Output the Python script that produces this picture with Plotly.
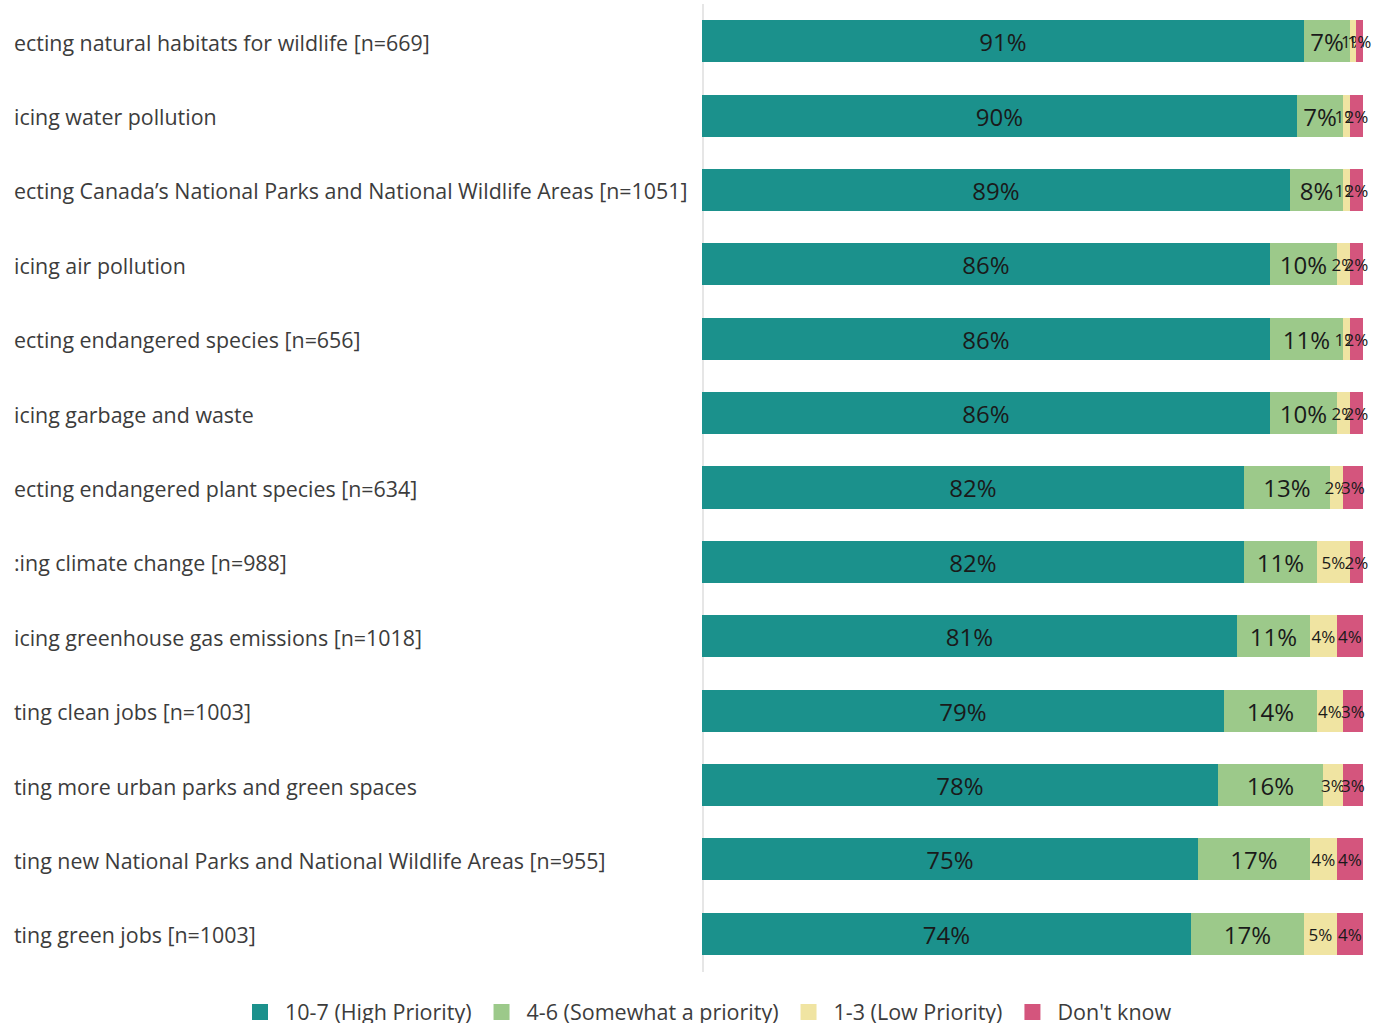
import plotly.graph_objects as go

# Survey items (left part of each label falls outside the visible area)
items = [
    "ecting natural habitats for wildlife [n=669]",
    "icing water pollution",
    "ecting Canada\u2019s National Parks and National Wildlife Areas [n=1051]",
    "icing air pollution",
    "ecting endangered species [n=656]",
    "icing garbage and waste",
    "ecting endangered plant species [n=634]",
    ":ing climate change [n=988]",
    "icing greenhouse gas emissions [n=1018]",
    "ting clean jobs [n=1003]",
    "ting more urban parks and green spaces",
    "ting new National Parks and National Wildlife Areas [n=955]",
    "ting green jobs [n=1003]",
]

high_priority = [91, 90, 89, 86, 86, 86, 82, 82, 81, 79, 78, 75, 74]
somewhat_priority = [7, 7, 8, 10, 11, 10, 13, 11, 11, 14, 16, 17, 17]
low_priority = [1, 1, 1, 2, 1, 2, 2, 5, 4, 4, 3, 4, 5]
dont_know = [1, 2, 2, 2, 2, 2, 3, 2, 4, 3, 3, 4, 4]

series_names = ["10-7 (High Priority)", "4-6 (Somewhat a priority)",
                "1-3 (Low Priority)", "Don't know"]
series_values = [high_priority, somewhat_priority, low_priority, dont_know]
series_colors = ["#1b918c", "#9cc98a", "#f0e4a2", "#d4557d"]
label_sizes = [24, 24, 17, 17]

FONT = "Open Sans"
W, H = 1383, 1023
X0, X1 = 702, 1363          # pixel span of 0..100 %
TOP, BOTTOM = 4, 971        # pixel span of the category axis

positions = list(range(len(items)))

fig = go.Figure()
for name, vals, color, fs in zip(series_names, series_values, series_colors, label_sizes):
    fig.add_trace(go.Bar(
        y=positions, x=vals, orientation="h", name=name,
        marker=dict(color=color, line=dict(width=0)),
        width=0.565,
        text=[f"{v}%" for v in vals],
        textposition="inside", insidetextanchor="middle",
        textangle=0, constraintext="none", cliponaxis=False,
        textfont=dict(size=fs, color="#1a1a1a", family=FONT),
        hoverinfo="skip", showlegend=False, legendgroup=name,
    ))

# Legend entries with larger square swatches
for name, color in zip(series_names, series_colors):
    fig.add_trace(go.Scatter(
        x=[None], y=[None], mode="markers", name=name, legendgroup=name,
        marker=dict(symbol="square", size=16, color=color),
        hoverinfo="skip",
    ))

# Category labels, left aligned
for i, lab in zip(positions, items):
    fig.add_annotation(
        x=12 / W, xref="paper", xanchor="left",
        y=i, yref="y", yanchor="middle", yshift=-1,
        text=lab, showarrow=False,
        font=dict(size=21.4, color="#3c3c3c", family=FONT),
    )

# Light vertical baseline at 0 %
fig.add_shape(type="line", xref="x", yref="paper", x0=0, x1=0, y0=-0.001, y1=1.0,
              line=dict(color="#e6e6e6", width=4), layer="below")

fig.update_layout(
    width=W, height=H,
    margin=dict(l=0, r=0, t=TOP, b=H - BOTTOM, pad=0, autoexpand=False),
    barmode="stack",
    bargap=0,
    plot_bgcolor="white", paper_bgcolor="white",
    xaxis=dict(domain=[X0 / W, X1 / W], range=[0, 100], visible=False, fixedrange=True),
    yaxis=dict(range=[len(items) - 0.5, -0.5], visible=False, fixedrange=True),
    showlegend=True,
    legend=dict(orientation="h", x=235 / W, xanchor="left", y=-(1012 - BOTTOM) / (BOTTOM - TOP),
                yanchor="middle", font=dict(size=21.5, color="#3c3c3c", family=FONT),
                traceorder="normal", itemwidth=40, itemsizing="trace", tracegroupgap=0,
                bgcolor="rgba(0,0,0,0)"),
    font=dict(family=FONT),
)

fig.write_html("out.html")
